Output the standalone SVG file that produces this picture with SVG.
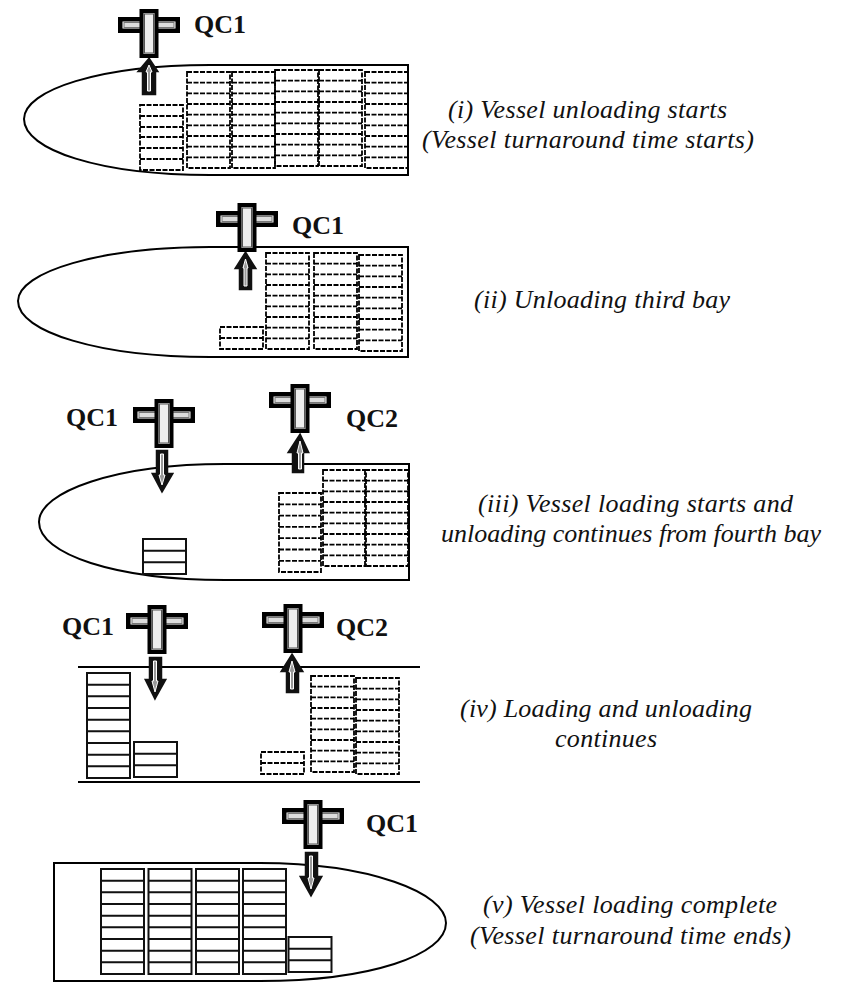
<svg xmlns="http://www.w3.org/2000/svg" width="851" height="983" viewBox="0 0 851 983">
<style>
.ship{fill:none;stroke:#000;stroke-width:2}
.d{fill:none;stroke:#000;stroke-width:1.800;stroke-dasharray:5 1.500}
.s{fill:none;stroke:#111;stroke-width:2}
.qc{font:bold 26px "Liberation Serif","Times New Roman",serif;fill:#111}
.cap{font:italic 26px "Liberation Serif","Times New Roman",serif;fill:#111}
.a1{fill:#111;stroke:#111;stroke-width:2.500;stroke-linejoin:miter}
.a2{fill:#999;stroke:#fff;stroke-width:1}
</style>
<defs>
<g id="crane">
<rect x="-31" y="8" width="62" height="16" fill="#000"/>
<rect x="-26.500" y="12.500" width="53" height="7" fill="#fff"/>
<rect x="-25" y="13.500" width="50" height="5" fill="#ddd" stroke="#777" stroke-width="1"/>
<rect x="-9.500" y="0" width="19" height="49" fill="#000"/>
<rect x="-5.500" y="4" width="11" height="41" fill="#ccc"/>
<rect x="-4.500" y="5" width="9" height="39" fill="#eee" stroke="#555" stroke-width="1"/>
</g>
<g id="r9d">
<rect x="0" y="0" width="43" height="96" class="d"/>
<path class="d" d="M0 10.700H43M0 21.300H43M0 32H43M0 42.700H43M0 53.300H43M0 64H43M0 74.700H43M0 85.300H43"/>
</g>
<g id="r9s">
<rect x="0" y="0" width="43" height="105" class="s"/>
<path class="s" d="M0 11.700H43M0 23.300H43M0 35H43M0 46.700H43M0 58.300H43M0 70H43M0 81.700H43M0 93.300H43"/>
</g>
<g id="r3s">
<rect x="0" y="0" width="43" height="35" class="s"/>
<path class="s" d="M0 11.700H43M0 23.300H43"/>
</g>
<g id="r2d">
<rect x="0" y="0" width="43" height="22" class="d"/>
<path class="d" d="M0 11H43"/>
</g>
</defs>

<g id="ship-i">
<path class="ship" d="M408 65H210C100 65 24 90 24 119C24 150 100 175 210 175H408Z"/>
<rect class="d" x="140" y="105" width="43" height="65"/>
<path class="d" d="M140 116H183M140 127H183M140 137H183M140 148H183M140 159H183"/>
<use href="#r9d" x="187" y="72"/><use href="#r9d" x="232" y="72"/><use href="#r9d" x="275" y="70"/><use href="#r9d" x="319" y="70"/><use href="#r9d" x="365" y="72"/>
</g>
<g id="ship-ii">
<path class="ship" d="M408 247H210C100 247 18 272 18 301C18 332 100 357 210 357H408Z"/>
<use href="#r2d" x="220" y="327"/>
<use href="#r9d" x="266" y="253"/><use href="#r9d" x="314" y="253"/><use href="#r9d" x="359" y="255"/>
</g>
<g id="ship-iii">
<path class="ship" d="M409 464H225C115 464 39 492 39 522C39 554 115 580 225 580H409Z"/>
<use href="#r3s" x="143" y="539"/>
<rect class="d" x="279" y="493" width="42" height="79"/>
<path class="d" d="M279 504.300H321M279 515.600H321M279 526.900H321M279 538.200H321M279 549.500H321M279 560.800H321"/>
<use href="#r9d" x="323" y="470"/><use href="#r9d" x="365" y="470"/>
</g>
<g id="ship-iv">
<path class="ship" d="M78 667H420M78 782H420"/>
<use href="#r9s" x="87" y="673"/><use href="#r3s" x="134" y="742"/>
<use href="#r2d" x="261" y="752"/>
<use href="#r9d" x="311" y="676"/><use href="#r9d" x="356" y="678"/>
</g>
<g id="ship-v">
<path class="ship" d="M54 863V981H260C370 981 446 955 446 923C446 893 370 863 260 863Z"/>
<use href="#r9s" x="101" y="869"/><use href="#r9s" x="148.500" y="869"/><use href="#r9s" x="196" y="869"/><use href="#r9s" x="243" y="869"/>
<use href="#r3s" x="288.500" y="937"/>
</g>

<g id="connectors">
<polygon class="a1" points="149,59 157,71 155,71 155,94 143,94 143,71 139,71"/>
<polygon class="a2" points="149,65 152,72 150.500,72 150.500,91 147.500,91 147.500,72 146,72"/>
<polygon class="a1" points="245.500,253 255,268 251,268 251,289 240,289 240,268 236,268"/>
<polygon class="a2" points="245.500,259 248,268 247,268 247,286 244,286 244,268 243,268"/>
<polygon class="a1" points="162,491 172,474 167,474 167,451 157,451 157,474 153,474"/>
<polygon class="a2" points="162,485 165,475 163.500,475 163.500,454 160.500,454 160.500,475 159,475"/>
<polygon class="a1" points="300,435 308,452 303,452 303,472 293,472 293,452 289,452"/>
<polygon class="a2" points="300,441 303,453 301.500,453 301.500,469 298.500,469 298.500,453 297,453"/>
<polygon class="a1" points="155,698 165,680 161,680 161,658 150,658 150,680 146,680"/>
<polygon class="a2" points="155,692 158,681 156.500,681 156.500,661 153.500,661 153.500,681 152,681"/>
<polygon class="a1" points="292,655 302,671 298,671 298,692 287,692 287,671 282,671"/>
<polygon class="a2" points="292,661 295,672 293.500,672 293.500,689 290.500,689 290.500,672 289,672"/>
<polygon class="a1" points="311,895 321,877 317,877 317,853 306,853 306,877 301,877"/>
<polygon class="a2" points="311,889 314,878 312.500,878 312.500,856 309.500,856 309.500,878 308,878"/>
</g>

<g id="qc-i"><use href="#crane" x="149" y="9"/><text class="qc" x="194" y="33">QC1</text></g>
<g id="qc-ii"><use href="#crane" x="247" y="203"/><text class="qc" x="292" y="234">QC1</text></g>
<g id="qc-iii-1"><use href="#crane" x="164" y="399"/><text class="qc" x="66" y="426">QC1</text></g>
<g id="qc-iii-2"><use href="#crane" x="300" y="384"/><text class="qc" x="346" y="427">QC2</text></g>
<g id="qc-iv-1"><use href="#crane" x="157" y="605"/><text class="qc" x="62" y="635">QC1</text></g>
<g id="qc-iv-2"><use href="#crane" x="293" y="604"/><text class="qc" x="336" y="636">QC2</text></g>
<g id="qc-v"><use href="#crane" x="313" y="800"/><text class="qc" x="366" y="832">QC1</text></g>

<g id="captions">
<text class="cap" x="448" y="118" textLength="279">(i) Vessel unloading starts</text>
<text class="cap" x="422" y="148" textLength="332">(Vessel turnaround time starts)</text>
<text class="cap" x="474" y="308" textLength="256">(ii) Unloading third bay</text>
<text class="cap" x="478" y="512" textLength="315">(iii) Vessel loading starts and</text>
<text class="cap" x="441" y="542" textLength="380">unloading continues from fourth bay</text>
<text class="cap" x="460" y="717" textLength="292">(iv) Loading and unloading</text>
<text class="cap" x="555" y="747" textLength="102">continues</text>
<text class="cap" x="483" y="913" textLength="294">(v) Vessel loading complete</text>
<text class="cap" x="470" y="944" textLength="321">(Vessel turnaround time ends)</text>
</g>
</svg>
